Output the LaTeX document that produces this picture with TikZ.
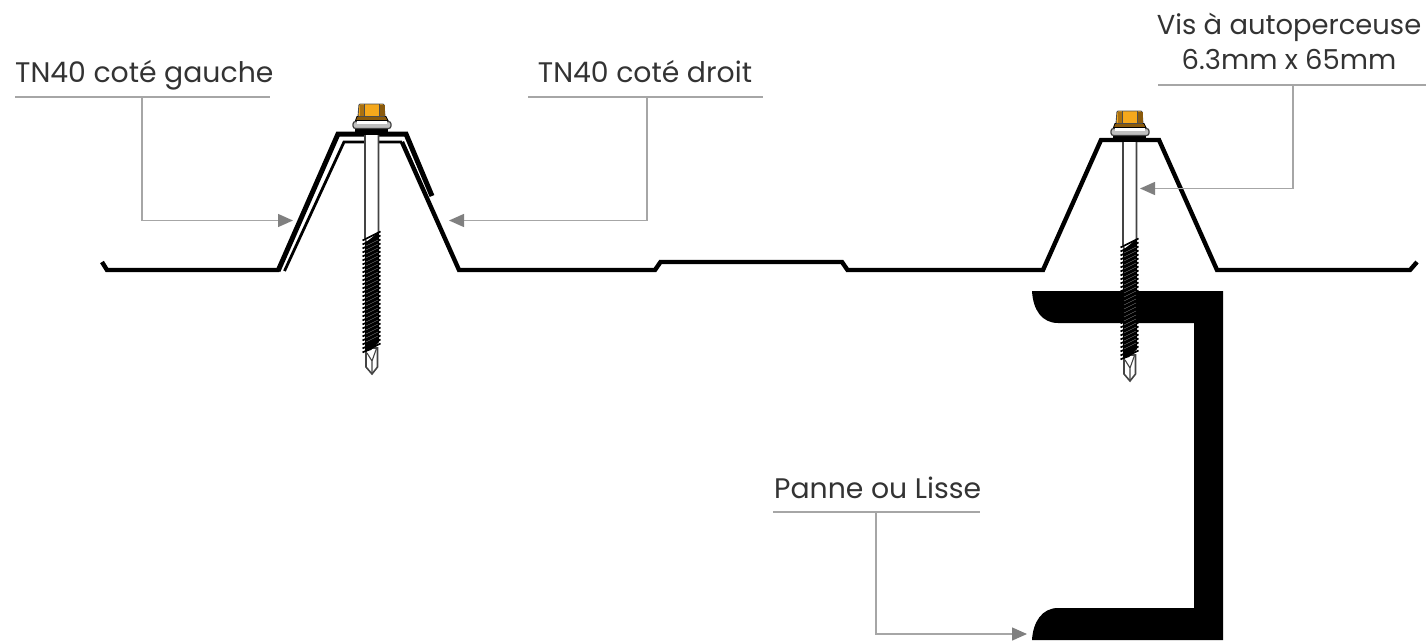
\documentclass[tikz,border=0pt]{standalone}
\usepackage{fontspec}
\setmainfont{Poppins}
\usetikzlibrary{arrows.meta,calc}
\definecolor{leader}{HTML}{A6A6A6}
\definecolor{tipgray}{HTML}{808080}
\definecolor{ink}{HTML}{333333}
\definecolor{gold}{HTML}{F5A81C}
\definecolor{golddark}{HTML}{8A5A0C}
\definecolor{boltgray}{HTML}{444444}
\tikzset{
  labeltext/.style={font=\fontsize{28.3}{35}\selectfont, text=ink, inner sep=0pt, align=center},
  labeltextnarrow/.style={labeltext, font=\fontsize{27.4}{35}\selectfont},
  underline/.style={draw=leader, line width=1.4pt},
  leaderline/.style={draw=leader, line width=1.4pt, -{Triangle[length=15pt,width=13pt,color=tipgray,fill=tipgray]}},
  sheet/.style={draw=black, line width=4.4pt, line join=miter, miter limit=4, line cap=butt},
  shaftline/.style={draw=boltgray, line width=1.6pt},
}
\newcommand{\drawscrew}[2]{%
  \begin{scope}[shift={(#1,#2)}]
    % shaft
    \path[fill=white,shaftline] (365,128) -- (365,238) -- (367,245) -- (378.5,232) -- (378.5,128) -- cycle;
    % tip
    \path[fill=white,shaftline] (366,348) -- (366,367) -- (372,374) -- (377.5,367) -- (377.5,348) -- cycle;
    \draw[boltgray,line width=1.1pt] (367,353) -- (372,361) -- (372,374) (372,361) -- (377,347);
    % thread
    \fill[black] (365,243) -- (379,232) -- (379,342) -- (371,350) -- (365,352) -- cycle;
    \foreach \yy in {236,240,...,348} {
      \draw[black,line width=1.6pt] (362.5,\yy+4.5) -- (380.5,\yy-4.5);
    }
    \foreach \yy in {244,248,...,340} {
      \draw[white!50!black,line width=0.4pt] (366,\yy+2) -- (378,\yy-4);
    }
    % sealing washer
    \fill[black] (355,127) rectangle (388,135);
    \path[fill=white!75!black,draw=black!75,line width=1.2pt,rounded corners=2.5pt] (353,121.5) rectangle (391,128.5);
    \fill[white] (357,120) rectangle (387,124);
    % collar
    \path[fill=golddark,draw=black,line width=0.8pt] (357,116.5) -- (386,116.5) -- (388,120.5) -- (355.5,120.5) -- cycle;
    % hex head
    \path[fill=gold,draw=black!70,line width=0.9pt,rounded corners=1pt] (359,104) -- (384,104) -- (385,116.5) -- (358,116.5) -- cycle;
    \fill[golddark!70!gold] (359.5,105) rectangle (364.5,116);
    \fill[golddark] (379,105) rectangle (384.5,116);
    \draw[black!70,line width=0.7pt] (364.5,104) -- (364.5,116.5) (379,104) -- (379,116.5);
  \end{scope}}
\begin{document}
\begin{tikzpicture}[x=1pt,y=-1pt]
\useasboundingbox (0,0) rectangle (1426,640);

% channel (panne)
\fill[black] (1032,291) -- (1223,291) -- (1223,640) -- (1032,640)
  .. controls (1033,622) and (1042,608) .. (1058,608)
  -- (1194,608) -- (1194,323) -- (1058,323)
  .. controls (1042,323) and (1033,310) .. (1032,291) -- cycle;

% sheets
\draw[sheet,line width=5pt] (278,271) -- (338,134) -- (406,134) -- (432,196);
\draw[sheet] (102,262) -- (107,270) -- (279,270);
\draw[sheet,line width=2.8pt] (284.5,271) -- (344,142) -- (402,142);
\draw[sheet] (402,142) -- (459,270) -- (655,270) -- (660.5,262) -- (842,262) -- (847.5,270) -- (1043,270) -- (1101,140) -- (1159,140) -- (1217,270) -- (1410,270) -- (1417,262);

\drawscrew{0}{0}
\drawscrew{758}{7}

% labels
\node[labeltext, anchor=base west] (lg) at (15,82) {TN40 coté gauche};
\node[labeltext, anchor=base] (ld) at (645,82) {TN40 coté droit};
\node[labeltextnarrow, anchor=center] (lv) at (1289,41) {Vis à autoperceuse\\[0pt]6.3mm x 65mm};
\node[labeltext, anchor=base west] (lp) at (774,498) {Panne ou Lisse};

% underline end points and targets
\coordinate (ga) at (15,97);   \coordinate (gb) at (270,97);   \coordinate (gm) at (142,97);  \coordinate (gt) at (293,220.5);
\coordinate (da) at (528,97);  \coordinate (db) at (763,97);   \coordinate (dm) at (647,97);  \coordinate (dt) at (449,220.5);
\coordinate (va) at (1158,85); \coordinate (vb) at (1426,85);  \coordinate (vm) at (1293,85); \coordinate (vt) at (1140,188.5);
\coordinate (pa) at (773,512); \coordinate (pb) at (980,512);  \coordinate (pm) at (876,512); \coordinate (pt) at (1027,634);

\draw[underline] (ga) -- (gb);
\draw[underline] (da) -- (db);
\draw[underline] (va) -- (vb);
\draw[underline] (pa) -- (pb);
\draw[leaderline] (gm) |- (gt);
\draw[leaderline] (dm) |- (dt);
\draw[leaderline] (vm) |- (vt);
\draw[leaderline] (pm) |- (pt);
\end{tikzpicture}
\end{document}
